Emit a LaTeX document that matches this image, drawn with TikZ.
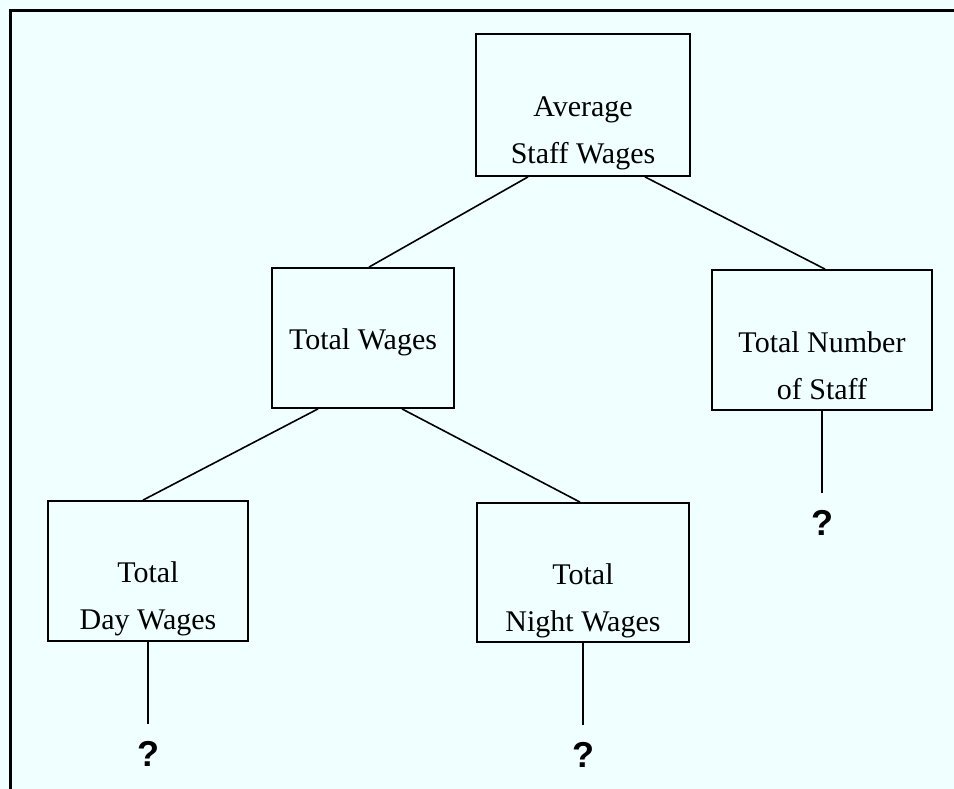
\documentclass[tikz,border=0pt]{standalone}
\usepackage{fontspec}
\setmainfont{Liberation Serif}
\newfontfamily\qfont{Liberation Sans}
\usetikzlibrary{positioning}
\definecolor{paper}{HTML}{F0FFFF}
\begin{document}
\begin{tikzpicture}[x=1pt,y=-1pt,
  box/.style={draw,line width=1.8pt,inner sep=0pt},
  txt/.style={align=center,inner sep=0pt,font=\fontsize{30}{47}\selectfont},
  link/.style={line width=1.6pt},
  qmark/.style={inner sep=17pt,font=\qfont\bfseries\fontsize{36}{36}\selectfont}]
\fill[paper](0,0)rectangle(954,789);
\useasboundingbox(0,0)rectangle(954,789);
\draw[line width=3pt](954,10.5)-|(10.5,789);
%boxes
\node[box,minimum width=214pt,minimum height=142pt](avg)at(583,105){};
\node[box,minimum width=182pt,minimum height=140pt](tw)at(363,338){};
\node[box,minimum width=220pt,minimum height=140pt](num)at(822,340){};
\node[box,minimum width=200pt,minimum height=140pt](day)at(148,571){};
\node[box,minimum width=212pt,minimum height=139pt](night)at(583,572.5){};
%texts
\node[txt](avgtxt)at([yshift=-28pt]avg.center){Average\\Staff Wages};
\node[txt](twtxt)at([yshift=-4pt]tw.center){Total Wages};
\node[txt](numtxt)at([yshift=-26pt]num.center){Total Number\\of Staff};
\node[txt](daytxt)at([yshift=-28pt]day.center){Total\\Day Wages};
\node[txt](nighttxt)at([yshift=-28pt]night.center){Total\\Night Wages};
%links
\draw[link]([xshift=-55pt]avg.south)--([xshift=6pt]tw.north);
\draw[link]([xshift=62pt]avg.south)--([xshift=3pt]num.north);
\draw[link]([xshift=-45pt]tw.south)--([xshift=-5pt]day.north);
\draw[link]([xshift=39pt]tw.south)--([xshift=-3pt]night.north);
%unknowns
\node[qmark,below=82pt of num](qnum){?};
\node[qmark,below=82pt of day](qday){?};
\node[qmark,below=82pt of night](qnight){?};
\draw[link](num.south)--(qnum.north);
\draw[link](day.south)--(qday.north);
\draw[link](night.south)--(qnight.north);
\end{tikzpicture}
\end{document}
